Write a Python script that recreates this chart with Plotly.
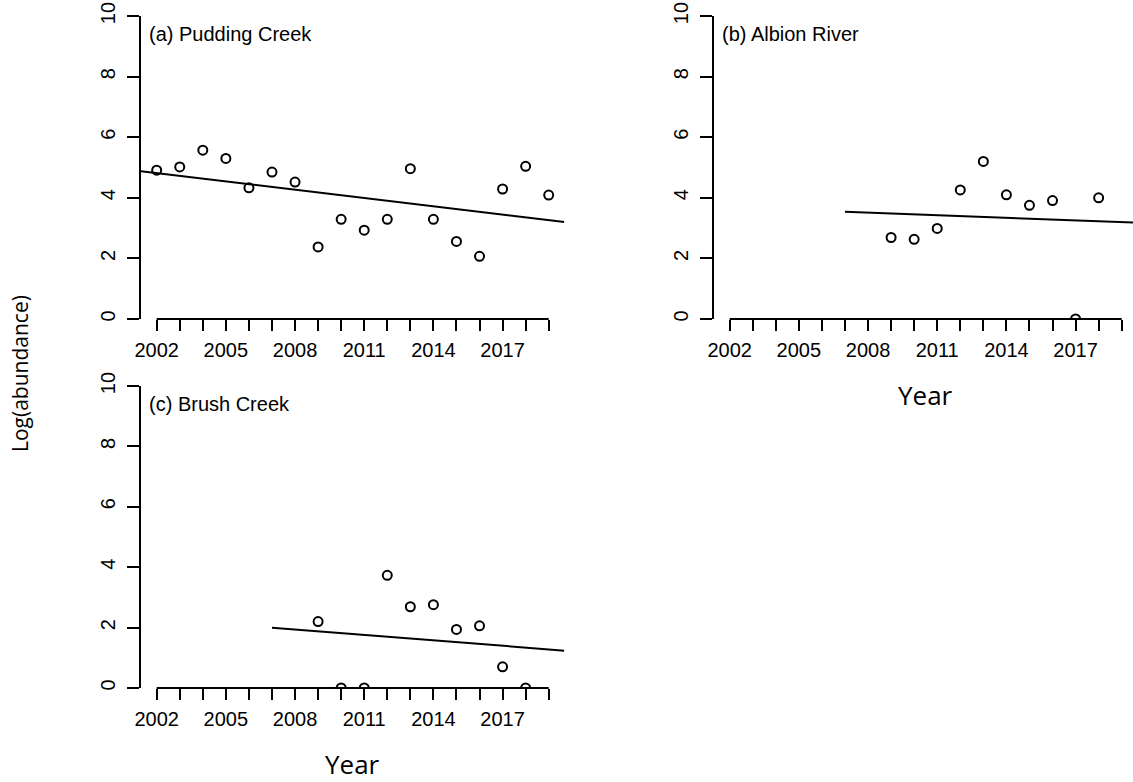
import numpy as np
import plotly.graph_objects as go

# ---- data -------------------------------------------------------------
site_labels = ["(a) Pudding Creek", "(b) Albion River", "(c) Brush Creek"]

years_pudding = [2002, 2003, 2004, 2005, 2006, 2007, 2008, 2009, 2010,
                 2011, 2012, 2013, 2014, 2015, 2016, 2017, 2018, 2019]
log_abund_pudding = [4.91, 5.02, 5.57, 5.30, 4.33, 4.85, 4.52, 2.38, 3.29,
                     2.93, 3.29, 4.96, 3.29, 2.56, 2.07, 4.29, 5.04, 4.09]

years_albion = [2009, 2010, 2011, 2012, 2013, 2014, 2015, 2016, 2017, 2018]
log_abund_albion = [2.69, 2.63, 2.99, 4.26, 5.20, 4.10, 3.75, 3.91, 0.0, 4.00]

years_brush = [2009, 2010, 2011, 2012, 2013, 2014, 2015, 2016, 2017, 2018]
log_abund_brush = [2.20, 0.0, 0.0, 3.73, 2.69, 2.76, 1.94, 2.06, 0.70, 0.0]

# first year the fitted trend is drawn from (None = whole panel width)
trend_start = [None, 2007, 2007]

x_ticks = list(range(2002, 2020))
x_labelled = [2002, 2005, 2008, 2011, 2014, 2017]
y_ticks = [0, 2, 4, 6, 8, 10]
y_range = [0, 10]

# ---- page geometry (pixels) -------------------------------------------
W, H = 1133, 782
PX_PER_YEAR = 23.06
pad = 0.04 * (x_ticks[-1] - x_ticks[0])
x_lo, x_hi = x_ticks[0] - pad, x_ticks[-1] + pad
span_px = (x_hi - x_lo) * PX_PER_YEAR

# left, top and bottom pixel of each plot region
panels = [
    dict(left=141, top=16, bottom=319),
    dict(left=714, top=16, bottom=319),
    dict(left=141, top=386, bottom=688),
]
series = [
    (years_pudding, log_abund_pudding),
    (years_albion, log_abund_albion),
    (years_brush, log_abund_brush),
]

TICK_FONT = dict(family="Liberation Sans, Arial, sans-serif", size=20, color="black")
TITLE_FONT = dict(family="Open Sans, sans-serif", size=26, color="black")

fig = go.Figure()
layout = dict(
    width=W, height=H,
    margin=dict(l=0, r=0, t=0, b=0, autoexpand=False),
    paper_bgcolor="white", plot_bgcolor="white",
    showlegend=False,
)
shapes, annotations = [], []

for i, (p, (yrs, vals)) in enumerate(zip(panels, series)):
    n = "" if i == 0 else str(i + 1)
    xa, ya = "x" + n, "y" + n
    right_px = p["left"] + span_px
    x_end = x_hi if right_px <= W else x_lo + (W - p["left"]) / PX_PER_YEAR
    dom_x = [p["left"] / W, min(right_px, W) / W]
    dom_y = [1 - p["bottom"] / H, 1 - p["top"] / H]

    layout["xaxis" + n] = dict(
        domain=dom_x, range=[x_lo, x_end], anchor=ya,
        showgrid=False, zeroline=False, showline=False,
        tickmode="array", tickvals=x_ticks,
        ticktext=[str(t) if t in x_labelled else "" for t in x_ticks],
        ticks="outside", ticklen=11, tickwidth=2, tickcolor="black",
        tickfont=TICK_FONT, ticklabelstandoff=2, automargin=False,
    )
    layout["yaxis" + n] = dict(
        domain=dom_y, range=y_range, anchor=xa,
        showgrid=False, zeroline=False,
        showline=True, linewidth=2, linecolor="black",
        tickmode="array", tickvals=y_ticks, tickangle=-90,
        ticks="outside", ticklen=12, tickwidth=2, tickcolor="black",
        tickfont=TICK_FONT, ticklabelstandoff=4, automargin=False,
    )

    # horizontal axis line running from the first to the last tick
    shapes.append(dict(
        type="line", xref=xa, yref=ya + " domain",
        x0=x_ticks[0], x1=x_ticks[-1], y0=0, y1=0,
        line=dict(color="black", width=2), layer="above",
    ))

    # least-squares trend through the yearly values
    slope, intercept = np.polyfit(yrs, vals, 1)
    t0 = x_lo if trend_start[i] is None else trend_start[i]
    tx = np.array([t0, x_hi])
    fig.add_trace(go.Scatter(
        x=tx, y=intercept + slope * tx, mode="lines",
        line=dict(color="black", width=2),
        xaxis=xa, yaxis=ya, hoverinfo="skip",
    ))
    fig.add_trace(go.Scatter(
        x=yrs, y=vals, mode="markers",
        marker=dict(symbol="circle-open", size=9, color="black",
                    line=dict(width=2, color="black")),
        xaxis=xa, yaxis=ya, cliponaxis=True,
    ))

    annotations.append(dict(
        text=site_labels[i], xref="paper", yref="paper",
        x=(p["left"] + 6) / W, y=1 - (p["top"] + 18) / H,
        xanchor="left", yanchor="middle", showarrow=False,
        font=dict(family="Liberation Sans, Arial, sans-serif", size=20, color="black"),
    ))

# "Year" under panels (b) and (c)
for i in (1, 2):
    p = panels[i]
    cx = p["left"] + span_px / 2
    annotations.append(dict(
        text="Year", xref="paper", yref="paper",
        x=cx / W, y=1 - (p["bottom"] + 76) / H,
        xanchor="center", yanchor="middle", showarrow=False, font=TITLE_FONT,
    ))

annotations.append(dict(
    text="Log(abundance)", xref="paper", yref="paper",
    x=20 / W, y=1 - 374 / H, textangle=-90,
    xanchor="center", yanchor="middle", showarrow=False,
    font=dict(family="Open Sans, sans-serif", size=21, color="black"),
))

layout["shapes"] = shapes
layout["annotations"] = annotations
fig.update_layout(**layout)

fig.write_html("out.html", config={"displayModeBar": False})
